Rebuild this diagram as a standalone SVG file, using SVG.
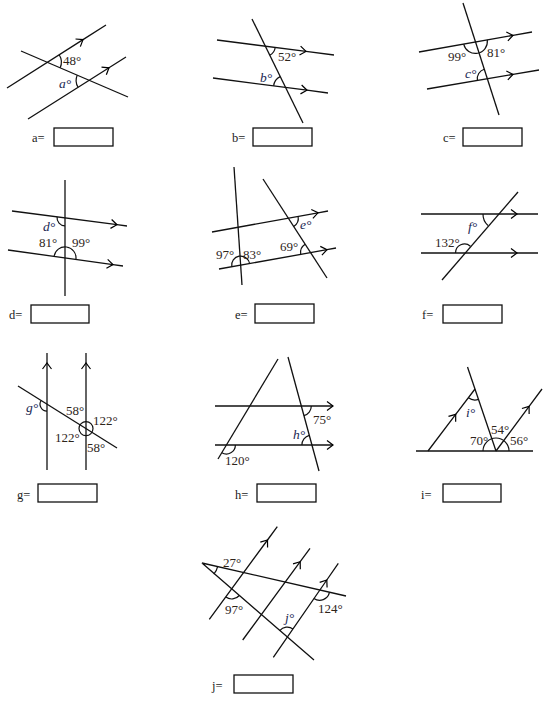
<svg xmlns="http://www.w3.org/2000/svg" width="548" height="701" viewBox="0 0 548 701">
<defs>
<marker id="arr" markerUnits="userSpaceOnUse" markerWidth="14" markerHeight="14" viewBox="-7 -7 14 14" refX="0" refY="0" orient="auto" overflow="visible"><path d="M-6,-4.5 L0,0 L-6,4.5" fill="none" stroke="#000" stroke-width="1.2"/></marker>
<style>
.ln{fill:none;stroke:#111;stroke-width:1.3}
.ar{fill:none;stroke:#111;stroke-width:1.3;marker-mid:url(#arr)}
.arc{fill:none;stroke:#111;stroke-width:1.2}
.box{fill:#fff;stroke:#111;stroke-width:1.3}
.n{font-family:"Liberation Serif","DejaVu Serif",serif;font-size:13px;fill:#2e241a}
.v{font-family:"Liberation Serif","DejaVu Serif",serif;font-size:13.5px;font-style:italic;fill:#1a2752}
.q{font-family:"Liberation Serif","DejaVu Serif",serif;font-size:12.5px;fill:#1a1a1a}
</style>
</defs>
<rect width="548" height="701" fill="#fff"/>

<g id="panel-a">
<path class="ar" d="M7,88 L83,39.6 L106,25"/>
<path class="ar" d="M28,119 L109,67.8 L126,57"/>
<path class="ln" d="M21,51 L128,97"/>
<path class="arc" d="M59.2,54.8 A14,14 0 0 1 60.2,67.8"/>
<path class="arc" d="M77.2,75.2 A13,13 0 0 0 78.1,87.3"/>
<text class="n" x="63" y="65">48°</text>
<text class="v" x="59" y="88">a°</text>
<rect class="box" x="54" y="128" width="59" height="18"/>
<text class="q" x="32" y="142">a=</text>
</g>

<g id="panel-b">
<path class="ar" d="M217,40 L306,51.4 L334,55"/>
<path class="ar" d="M213,78 L307,90.2 L328,93"/>
<path class="ln" d="M252,19 L303,123"/>
<path class="arc" d="M275.2,47.5 A10,10 0 0 1 269.7,55.2"/>
<path class="arc" d="M280.2,76.6 A12,12 0 0 0 273.6,85.9"/>
<text class="n" x="278" y="61">52°</text>
<text class="v" x="260" y="82">b°</text>
<rect class="box" x="253" y="128" width="59" height="18"/>
<text class="q" x="232" y="142">b=</text>
</g>

<g id="panel-c">
<path class="ar" d="M419,52 L513,35.4 L532,32"/>
<path class="ar" d="M427,89 L513,74.4 L539,70"/>
<path class="ln" d="M463,3 L499,115"/>
<path class="arc" d="M463.7,44.1 A12,12 0 0 0 487.3,39.9"/>
<path class="arc" d="M484.2,69.2 A10,10 0 0 0 477.4,80.4"/>
<text class="n" x="448" y="61">99°</text>
<text class="n" x="487" y="57">81°</text>
<text class="v" x="465" y="78">c°</text>
<rect class="box" x="463" y="128" width="59" height="18"/>
<text class="q" x="443" y="142">c=</text>
</g>

<g id="panel-d">
<path class="ln" d="M65,180 L65,296"/>
<path class="ar" d="M12,211 L117,224.7 L127,226"/>
<path class="ar" d="M8,250 L113,264.6 L123,266"/>
<path class="arc" d="M57.1,216.9 A8,8 0 0 0 65,225.9"/>
<path class="arc" d="M54.1,256.4 A11,11 0 0 1 75.9,259.4"/>
<text class="v" x="43" y="231">d°</text>
<text class="n" x="39" y="247">81°</text>
<text class="n" x="72" y="247">99°</text>
<rect class="box" x="31" y="305" width="58" height="18"/>
<text class="q" x="9" y="319">d=</text>
</g>

<g id="panel-e">
<path class="ln" d="M234,167 L242,285"/>
<path class="ln" d="M263,179 L327,278"/>
<path class="ar" d="M212,232 L318,212.8 L328,211"/>
<path class="ar" d="M219,269 L327,249.7 L336,248"/>
<path class="arc" d="M298.1,216.4 A10,10 0 0 1 293.7,226.6"/>
<path class="arc" d="M300.7,254.4 A10,10 0 0 1 305.1,244.2"/>
<path class="arc" d="M231.8,266.7 A9,9 0 0 1 249.6,263.5"/>
<text class="v" x="300" y="229">e°</text>
<text class="n" x="280" y="251">69°</text>
<text class="n" x="216" y="259">97°</text>
<text class="n" x="243" y="259">83°</text>
<rect class="box" x="255" y="304" width="59" height="19"/>
<text class="q" x="235" y="319">e=</text>
</g>

<g id="panel-f">
<path class="ar" d="M421,214 L517,214 L538,214"/>
<path class="ar" d="M421,253 L517,253 L538,253"/>
<path class="ln" d="M442,280 L518,192"/>
<path class="arc" d="M483,214 A15,15 0 0 0 488,225.5"/>
<path class="arc" d="M455.5,253 A9,9 0 0 1 470.4,246.2"/>
<text class="v" x="468" y="231">f°</text>
<text class="n" x="435" y="247">132°</text>
<rect class="box" x="443" y="305" width="59" height="18"/>
<text class="q" x="422" y="319">f=</text>
</g>

<g id="panel-g">
<path class="ar" d="M47,470 L47,363 L47,353"/>
<path class="ar" d="M86,470 L86,363 L86,353"/>
<path class="ln" d="M18,386 L117,448"/>
<path class="arc" d="M41.1,400.5 A7,7 0 0 0 47,411.2"/>
<circle class="arc" cx="86" cy="428.6" r="7"/>
<text class="v" x="26" y="412">g°</text>
<text class="n" x="66" y="415">58°</text>
<text class="n" x="93" y="425">122°</text>
<text class="n" x="55" y="442">122°</text>
<text class="n" x="87" y="452">58°</text>
<rect class="box" x="38" y="484" width="59" height="18"/>
<text class="q" x="17" y="499">g=</text>
</g>

<g id="panel-h">
<path class="ln" d="M218,459 L278,359"/>
<path class="ln" d="M288,357 L319,471"/>
<path class="ln" d="M215,406 L333,406" marker-end="url(#arr)"/>
<path class="ln" d="M215,445 L333,445" marker-end="url(#arr)"/>
<path class="arc" d="M311.3,406 A10,10 0 0 1 303.9,415.7"/>
<path class="arc" d="M301.9,445 A10,10 0 0 1 309.3,435.3"/>
<path class="arc" d="M235.4,445 A9,9 0 0 1 221.8,452.7"/>
<text class="n" x="313" y="424">75°</text>
<text class="v" x="293" y="439">h°</text>
<text class="n" x="225" y="465">120°</text>
<rect class="box" x="257" y="484" width="59" height="18"/>
<text class="q" x="235" y="499">h=</text>
</g>

<g id="panel-i">
<path class="ln" d="M416,451 L533,451"/>
<path class="ar" d="M428,451 L455.7,414.3 L475,389"/>
<path class="ln" d="M467.5,367 L496,451"/>
<path class="ar" d="M496,451 L529.1,406.4 L542,389"/>
<path class="arc" d="M478.5,399.4 A11,11 0 0 1 468.4,397.8"/>
<path class="arc" d="M483,451 A13,13 0 0 1 509,451"/>
<text class="v" x="466" y="417">i°</text>
<text class="n" x="470" y="445">70°</text>
<text class="n" x="491" y="434">54°</text>
<text class="n" x="510" y="445">56°</text>
<rect class="box" x="443" y="484" width="58" height="18"/>
<text class="q" x="421" y="499">i=</text>
</g>

<g id="panel-j">
<path class="ln" d="M346,596 L202,563 L314,660"/>
<path class="ar" d="M209.3,619.3 L267.5,540 L277.3,526.7"/>
<path class="ar" d="M242.7,640 L300.2,561.7 L310,548.3"/>
<path class="ar" d="M273.3,657.3 L326.8,580 L338.3,563.3"/>
<path class="arc" d="M217.6,566.6 A16,16 0 0 1 213.8,574.1"/>
<path class="arc" d="M239.3,595.5 A10,10 0 0 1 225.8,597.1"/>
<path class="arc" d="M329.4,592.5 A10,10 0 0 1 313.9,598.5"/>
<path class="arc" d="M279.7,630.6 A10,10 0 0 1 293,628.9"/>
<text class="n" x="223" y="567">27°</text>
<text class="n" x="225" y="614">97°</text>
<text class="n" x="318" y="613">124°</text>
<text class="v" x="285" y="622">j°</text>
<rect class="box" x="234" y="675" width="59" height="18"/>
<text class="q" x="212" y="690">j=</text>
</g>
</svg>
